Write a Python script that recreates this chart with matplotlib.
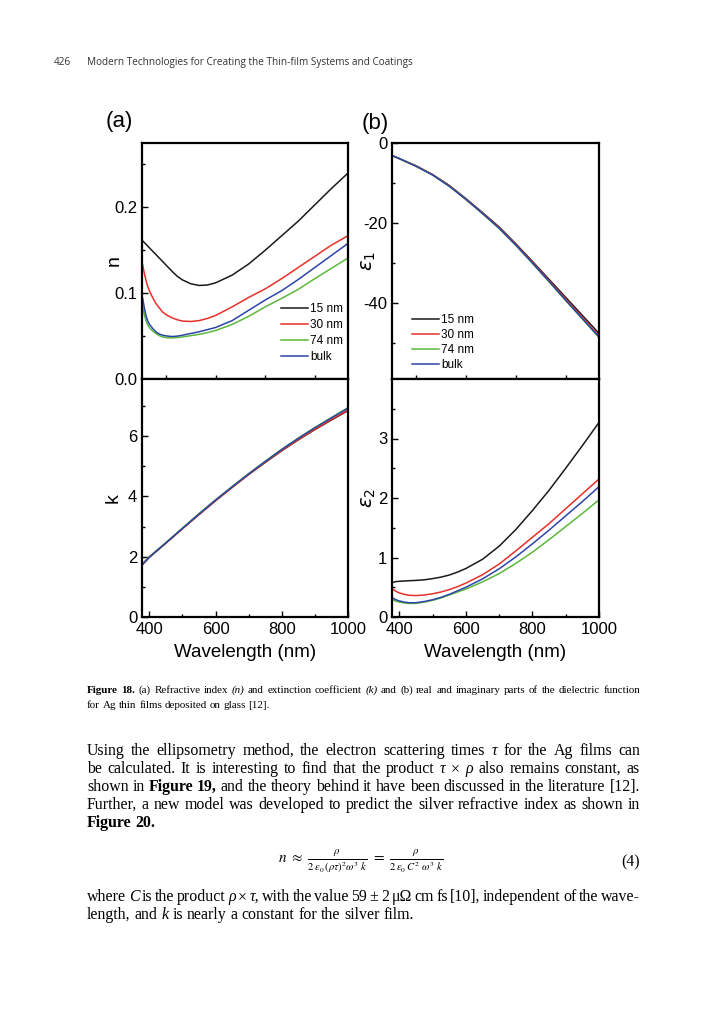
import matplotlib
matplotlib.use('Agg')
import matplotlib.pyplot as plt
from matplotlib.ticker import FixedLocator

W, H = 723, 1024

# ---- data ----
labels = ['15 nm', '30 nm', '74 nm', 'bulk']
colors = ['#1a1a1a', '#e8302a', '#5cb83c', '#2d45a8']

# refractive index n
wl_n = [380, 385, 390, 395, 400, 410, 420, 430, 440, 455, 470, 485, 500, 525, 550, 575, 600,
        650, 700, 750, 800, 850, 900, 950, 1000]
n_15 = [0.161, 0.159, 0.157, 0.155, 0.153, 0.149, 0.145, 0.141, 0.137, 0.131, 0.125, 0.1195, 0.1155,
        0.111, 0.109, 0.1095, 0.112, 0.121, 0.134, 0.150, 0.167, 0.184, 0.203, 0.222, 0.240]
n_30 = [0.133, 0.123, 0.115, 0.108, 0.103, 0.095, 0.088, 0.083, 0.078, 0.074, 0.071, 0.069, 0.0675,
        0.067, 0.068, 0.0705, 0.074, 0.084, 0.095, 0.105, 0.117, 0.130, 0.143, 0.156, 0.167]
n_74 = [0.084, 0.075, 0.068, 0.0635, 0.060, 0.056, 0.053, 0.0505, 0.049, 0.048, 0.048, 0.0483, 0.049,
        0.0505, 0.052, 0.054, 0.0565, 0.0635, 0.073, 0.084, 0.094, 0.1045, 0.117, 0.129, 0.141]
n_bulk = [0.094, 0.083, 0.074, 0.068, 0.064, 0.059, 0.055, 0.0525, 0.051, 0.050, 0.0495, 0.050, 0.051,
          0.053, 0.055, 0.0575, 0.060, 0.068, 0.080, 0.092, 0.103, 0.116, 0.130, 0.144, 0.158]

# extinction coefficient k and eps1
wl = [380, 400, 450, 500, 550, 600, 650, 700, 750, 800, 850, 900, 950, 1000]
k_15 = [1.75, 1.98, 2.45, 2.93, 3.40, 3.86, 4.30, 4.73, 5.13, 5.52, 5.88, 6.22, 6.54, 6.85]
k_30 = [1.75, 1.98, 2.45, 2.93, 3.40, 3.86, 4.30, 4.73, 5.14, 5.53, 5.89, 6.23, 6.56, 6.87]
k_74 = [1.77, 2.00, 2.47, 2.95, 3.43, 3.89, 4.33, 4.76, 5.17, 5.57, 5.94, 6.29, 6.62, 6.95]
k_bulk = [1.76, 1.99, 2.46, 2.94, 3.42, 3.88, 4.32, 4.75, 5.16, 5.56, 5.93, 6.28, 6.61, 6.93]

e1_15 = [-3.2, -3.9, -5.7, -7.9, -10.6, -13.9, -17.4, -21.0, -25.2, -29.6, -34.1, -38.6, -43.1, -47.6]
e1_30 = [-3.2, -3.9, -5.7, -7.9, -10.7, -14.0, -17.5, -21.2, -25.4, -29.8, -34.4, -39.0, -43.6, -48.2]
e1_74 = [-3.2, -3.9, -5.8, -8.0, -10.8, -14.1, -17.7, -21.4, -25.6, -30.1, -34.7, -39.4, -44.0, -48.6]
e1_bulk = [-3.2, -3.9, -5.8, -8.0, -10.8, -14.1, -17.6, -21.3, -25.5, -30.0, -34.6, -39.3, -43.9, -48.5]

# eps2
wl_e2 = [380, 390, 400, 415, 430, 450, 475, 500, 525, 550, 575, 600, 650, 700, 750, 800, 850, 900, 950, 1000]
e2_15 = [0.58, 0.595, 0.60, 0.605, 0.61, 0.615, 0.625, 0.645, 0.67, 0.705, 0.755, 0.815, 0.97, 1.19,
         1.47, 1.79, 2.13, 2.50, 2.88, 3.27]
e2_30 = [0.47, 0.43, 0.405, 0.38, 0.365, 0.36, 0.37, 0.39, 0.42, 0.46, 0.51, 0.57, 0.71, 0.89,
         1.11, 1.34, 1.57, 1.82, 2.07, 2.32]
e2_74 = [0.29, 0.265, 0.25, 0.235, 0.227, 0.23, 0.25, 0.28, 0.32, 0.37, 0.42, 0.47, 0.59, 0.73,
         0.90, 1.09, 1.30, 1.52, 1.74, 1.97]
e2_bulk = [0.32, 0.29, 0.27, 0.25, 0.24, 0.24, 0.26, 0.29, 0.33, 0.38, 0.44, 0.50, 0.64, 0.81,
           1.01, 1.23, 1.46, 1.70, 1.94, 2.19]

# page text
header_num = '426'
header_txt = 'Modern Technologies for Creating the Thin-film Systems and Coatings'
caption = ['#Figure #18. (a) Refractive index *(n) and extinction coefficient *(k) and (b) real and imaginary parts of the dielectric function',
           'for Ag thin films deposited on glass [12].']
para1 = ['Using the ellipsometry method, the electron scattering times *τ for the Ag films can',
         'be calculated. It is interesting to find that the product *τ × *ρ also remains constant, as',
         'shown in #Figure #19, and the theory behind it have been discussed in the literature [12].',
         'Further, a new model was developed to predict the silver refractive index as shown in',
         '#Figure #20.']
para2 = ['where *C is the product *ρ × *τ, with the value 59 ± 2 μΩ cm fs [10], independent of the wave-',
         'length, and *k is nearly a constant for the silver film.']

plt.rcParams['font.family'] = 'Liberation Sans'
plt.rcParams['axes.unicode_minus'] = False

fig = plt.figure(figsize=(W / 100, H / 100), dpi=100)


def ax_box(l, t, r, b):
    return fig.add_axes([l / W, 1 - b / H, (r - l) / W, (b - t) / H])


ax_n = ax_box(142, 143, 348, 379)
ax_k = ax_box(142, 379, 348, 617)
ax_e1 = ax_box(392, 143, 599, 379)
ax_e2 = ax_box(392, 379, 599, 617)

for ax, x, ys in [(ax_n, wl_n, [n_15, n_30, n_74, n_bulk]),
                  (ax_k, wl, [k_15, k_30, k_74, k_bulk]),
                  (ax_e1, wl, [e1_15, e1_30, e1_74, e1_bulk]),
                  (ax_e2, wl_e2, [e2_15, e2_30, e2_74, e2_bulk])]:
    for y, c, lab in zip(ys, colors, labels):
        ax.plot(x, y, color=c, lw=1.1, label=lab)
    ax.set_xlim(378, 1000)
    for s in ax.spines.values():
        s.set_linewidth(1.6)
    ax.tick_params(which='both', direction='in', labelsize=12, right=False, top=False, width=1)
    ax.tick_params(which='major', length=4)
    ax.tick_params(which='minor', length=2.5)

for ax in (ax_n, ax_e1):
    ax.xaxis.set_major_locator(FixedLocator([450, 600, 750, 900]))
    ax.tick_params(axis='x', labelbottom=False, length=3)
for ax in (ax_k, ax_e2):
    ax.xaxis.set_major_locator(FixedLocator([400, 600, 800, 1000]))
    ax.xaxis.set_minor_locator(FixedLocator([500, 700, 900]))
    ax.set_xlabel('Wavelength (nm)', fontsize=13.5)
    ax.xaxis.set_label_coords(0.5, -0.115)

ax_n.set_ylim(0, 0.275)
ax_n.yaxis.set_major_locator(FixedLocator([0.0, 0.1, 0.2]))
ax_n.yaxis.set_minor_locator(FixedLocator([0.05, 0.15, 0.25]))
ax_n.yaxis.set_major_formatter('{x:.1f}')
ax_k.set_ylim(0, 7.9)
ax_k.yaxis.set_major_locator(FixedLocator([0, 2, 4, 6]))
ax_k.yaxis.set_minor_locator(FixedLocator([1, 3, 5, 7]))
ax_e1.set_ylim(-59, 0)
ax_e1.yaxis.set_major_locator(FixedLocator([0, -20, -40]))
ax_e1.yaxis.set_minor_locator(FixedLocator([-10, -30, -50]))
ax_e2.set_ylim(0, 4.0)
ax_e2.yaxis.set_major_locator(FixedLocator([0, 1, 2, 3]))
ax_e2.yaxis.set_minor_locator(FixedLocator([0.5, 1.5, 2.5, 3.5]))

ax_n.set_ylabel('n', fontsize=14)
ax_n.yaxis.set_label_coords(-0.095, 0.5)
ax_k.set_ylabel('k', fontsize=14)
ax_k.yaxis.set_label_coords(-0.10, 0.5)
ax_e1.set_ylabel(r'$\varepsilon_1$', fontsize=14)
ax_e1.yaxis.set_label_coords(-0.07, 0.5)
ax_e2.set_ylabel(r'$\varepsilon_2$', fontsize=14)
ax_e2.yaxis.set_label_coords(-0.07, 0.5)

leg_kw = dict(loc='upper left', frameon=False, fontsize=8.5, handlelength=2.3,
              handletextpad=0.15, borderpad=0, borderaxespad=0)
ax_n.legend(bbox_to_anchor=(0.675, 0.32), labelspacing=0.33, **leg_kw)
ax_e1.legend(bbox_to_anchor=(0.097, 0.275), labelspacing=0.25, **leg_kw)

fig.text(119 / W, 1 - 121 / H, '(a)', ha='center', va='center', fontsize=16)
fig.text(375 / W, 1 - 123 / H, '(b)', ha='center', va='center', fontsize=16)

# ---- page text ----
fig.text(54 / W, 1 - 65 / H, header_num, family='Open Sans', fontsize=7.2, va='baseline', color='#333333')
fig.text(87 / W, 1 - 65 / H, header_txt, family='Open Sans', fontsize=7.2, va='baseline', color='#333333')

renderer = fig.canvas.get_renderer()


def words(line, size):
    items = []
    for w in line.split(' '):
        kw = {}
        if w.startswith('*'):
            w, kw['style'] = w[1:], 'italic'
        elif w.startswith('#'):
            w, kw['weight'] = w[1:], 'bold'
        t = fig.text(0, 0, w, fontsize=size, family='Liberation Serif', va='baseline', **kw)
        items.append((t, t.get_window_extent(renderer).width))
    return items


def fit_size(line, target, base=10.0):
    # font size at which the line, set with normal spaces, just fills the text width
    items = words(line, base)
    nat = sum(wd for _, wd in items) + (len(items) - 1) * base * 100 / 72 * 0.25
    for t, _ in items:
        t.remove()
    return base * 0.98 * target / nat


def put_line(line, y, size, x1=None, x0=87):
    items = words(line, size)
    total = sum(wd for _, wd in items)
    space = size * 100 / 72 * 0.25
    if x1 is None:
        gap = space
    else:
        gap = max((x1 - x0 - total) / (len(items) - 1), 0.5 * space)
    x = x0
    for t, wd in items:
        t.set_position((x / W, 1 - y / H))
        x += wd + gap


cap_size = fit_size(caption[0], 553)
put_line(caption[0], 693, cap_size, x1=640)
put_line(caption[1], 708, cap_size)

sizes = sorted(fit_size(l, 553) for l in para1[:4] + para2[:1])
body_size = sizes[len(sizes) // 2]
for i, line in enumerate(para1):
    put_line(line, 755 + 18 * i, body_size, x1=640 if i < 4 else None)

eq = (r'$n\ \approx\ \frac{\rho}{2\,\varepsilon_0\,(\rho\tau)^2\omega^3\ k}'
      r'\ =\ \frac{\rho}{2\,\varepsilon_0\,C^2\ \omega^3\ k}$')
fig.text(361 / W, 1 - 862 / H, eq, math_fontfamily='stix', fontsize=11, ha='center', va='center')
fig.text(640 / W, 1 - 862 / H, '(4)', family='Liberation Serif', fontsize=body_size, ha='right', va='center')

put_line(para2[0], 901, body_size, x1=640)
put_line(para2[1], 919, body_size)

fig.savefig('out.png', dpi=100)
